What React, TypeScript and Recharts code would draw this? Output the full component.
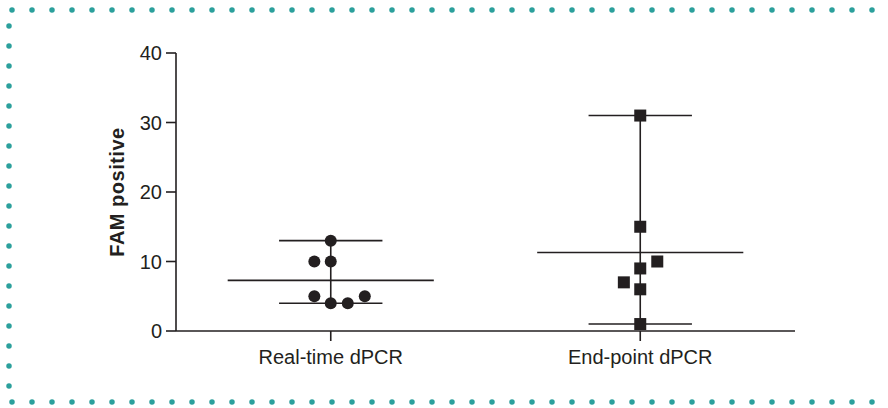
import React from "react";
import {
  ComposedChart,
  Scatter,
  XAxis,
  YAxis,
  ReferenceLine,
} from "recharts";

// --- Data ---
const categories = ["Real-time dPCR", "End-point dPCR"];
const yTicks = [0, 10, 20, 30, 40];

const realTimeValues = [13, 10, 10, 5, 5, 4, 4];
const realTimeJitter = [0, -0.053, 0, -0.053, 0.11, 0, 0.055];

const endPointValues = [31, 15, 10, 9, 7, 6, 1];
const endPointJitter = [0, 0, 0.055, 0, -0.053, 0, 0];

const INK = "#231f20";
const TEAL = "#2ba09c";
const FONT = "'Liberation Sans', Arial, Helvetica, sans-serif";

const toPoints = (values: number[], jitter: number[], group: number) =>
  values.map((v, i) => ({ x: group + 0.5 + jitter[i], y: v }));

const mean = (a: number[]) => a.reduce((s, v) => s + v, 0) / a.length;

const realTimeData = toPoints(realTimeValues, realTimeJitter, 0);
const endPointData = toPoints(endPointValues, endPointJitter, 1);

const Circle = (props: any) => (
  <circle cx={props.cx} cy={props.cy} r={6} fill={INK} />
);
const Square = (props: any) => (
  <rect x={props.cx - 6} y={props.cy - 6} width={12} height={12} fill={INK} />
);

// mean line + range (min/max) bars for one group
const summaryLines = (values: number[], group: number) => {
  const c = group + 0.5;
  const lo = Math.min(...values);
  const hi = Math.max(...values);
  const m = mean(values);
  const seg = (x1: number, y1: number, x2: number, y2: number, k: string) => (
    <ReferenceLine
      key={k}
      segment={[{ x: x1, y: y1 }, { x: x2, y: y2 }]}
      stroke={INK}
      strokeWidth={1.6}
    />
  );
  return [
    seg(c - 0.333, m, c + 0.333, m, `m${group}`),
    seg(c - 0.167, hi, c + 0.167, hi, `h${group}`),
    seg(c - 0.167, lo, c + 0.167, lo, `l${group}`),
    seg(c, lo, c, hi, `v${group}`),
  ];
};

const Frame = () => {
  return (
    <svg
      width={888}
      height={408}
      style={{ position: "absolute", left: 0, top: 0 }}
    >
      <g stroke={TEAL} strokeWidth={5.5} strokeLinecap="round" strokeDasharray="0 20">
        <line x1={12} y1={10} x2={880} y2={10} />
        <line x1={12} y1={402} x2={880} y2={402} />
        <line x1={9} y1={26} x2={9} y2={390} />
      </g>
    </svg>
  );
};

export default function App() {
  return (
    <div
      style={{
        position: "absolute",
        left: 0,
        top: 0,
        width: 888,
        height: 408,
        background: "#fff",
        fontFamily: FONT,
      }}
    >
      <Frame />
      <div style={{ position: "absolute", left: 0, top: 0 }}>
        <ComposedChart
          width={888}
          height={408}
          margin={{ top: 53, right: 93, bottom: 47, left: 116 }}
        >
          <XAxis
            type="number"
            dataKey="x"
            domain={[0, 2]}
            ticks={[0.5, 1.5]}
            tickFormatter={(v: number) => categories[Math.floor(v)]}
            height={30}
            tickSize={10}
            tickMargin={9}
            stroke={INK}
            strokeWidth={1.6}
            tick={{ fill: INK, fontSize: 20, fontFamily: FONT }}
          />
          <YAxis
            type="number"
            dataKey="y"
            domain={[0, 40]}
            ticks={yTicks}
            width={60}
            tickSize={10}
            tickMargin={4}
            stroke={INK}
            strokeWidth={1.6}
            tick={{ fill: INK, fontSize: 20, fontFamily: FONT }}
            label={{
              content: (p: any) => {
                const vb = p.viewBox || { x: 116, y: 53, height: 278 };
                const cx = vb.x + 1;
                const cy = vb.y + vb.height / 2;
                return (
                  <text
                    x={cx}
                    y={cy}
                    transform={`rotate(-90 ${cx} ${cy})`}
                    textAnchor="middle"
                    dominantBaseline="central"
                    fill={INK}
                    fontSize={20}
                    fontWeight="bold"
                    letterSpacing={0.5}
                    fontFamily={FONT}
                  >
                    FAM positive
                  </text>
                );
              },
            }}
          />
          {summaryLines(realTimeValues, 0)}
          {summaryLines(endPointValues, 1)}
          <Scatter
            data={realTimeData}
            shape={Circle}
            isAnimationActive={false}
          />
          <Scatter
            data={endPointData}
            shape={Square}
            isAnimationActive={false}
          />
        </ComposedChart>
      </div>
    </div>
  );
}
